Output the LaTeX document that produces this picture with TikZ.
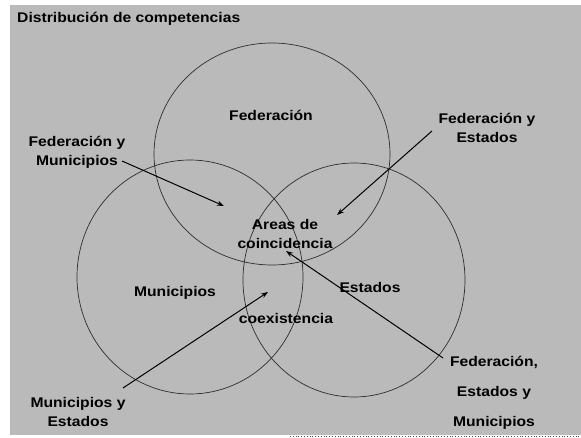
\documentclass[tikz,border=0pt]{standalone}
\usepackage{fontspec}
\setmainfont{Liberation Sans}[FakeStretch=1.12]
\usetikzlibrary{arrows.meta,shapes.geometric}
\definecolor{bggray}{RGB}{186,186,186}
\definecolor{ringcol}{RGB}{45,45,45}
\tikzset{
  ring/.style={ellipse, draw=ringcol, line width=0.7pt, inner sep=0pt},
  lbl/.style={font=\fontsize{14}{19}\selectfont\bfseries, align=center, inner sep=0pt, text=black},
  ptr/.style={draw=black, line width=1pt, -{Stealth[length=7pt,width=5pt]}},
}
\begin{document}
\begin{tikzpicture}[x=1pt,y=-1pt]
\useasboundingbox (0,0) rectangle (581,438);
\fill[white] (0,0) rectangle (581,438);
\fill[bggray] (10,5) rectangle (581,435);
\draw[black!70, line width=0.8pt, dotted] (290,436.5) -- (581,436.5);

% circles
\node[ring, minimum width=236pt, minimum height=222pt] (cfed) at (272,154) {};
\node[ring, minimum width=226pt, minimum height=234pt] (cmun) at (190,277) {};
\node[ring, minimum width=222pt, minimum height=234pt] (cest) at (354,280) {};

% texts
\node[lbl, anchor=west] (title) at (17,19) {Distribución de competencias};
\node[lbl] (fed) at (271,115) {Federación};
\node[lbl] (mun) at (175,293) {Municipios};
\node[lbl] (est) at (370,287) {Estados};
\node[lbl] (areas) at (285,234) {Areas de\\coincidencia};
\node[lbl] (coex) at (286,318) {coexistencia};
\node[lbl] (fm) at (77,152) {Federación y\\Municipios};
\node[lbl] (fe) at (487,128) {Federación y\\Estados};
\node[lbl] (me) at (78,412) {Municipios y\\Estados};
\node[lbl, font=\fontsize{14}{30}\selectfont\bfseries] (fem) at (494,393) {Federación,\\Estados y\\Municipios};

% arrow ends
\coordinate (fmS) at (122,161);
\coordinate (fmT) at (224,206);
\coordinate (feS) at (432,131);
\coordinate (feT) at (337,215);
\coordinate (meS) at (123,388);
\coordinate (meT) at (268,292);
\coordinate (femS) at (443,358);
\coordinate (femT) at (286,251);

\draw[ptr] (fmS) -- (fmT);
\draw[ptr] (feS) -- (feT);
\draw[ptr] (meS) -- (meT);
\draw[ptr] (femS) -- (femT);
\end{tikzpicture}
\end{document}
